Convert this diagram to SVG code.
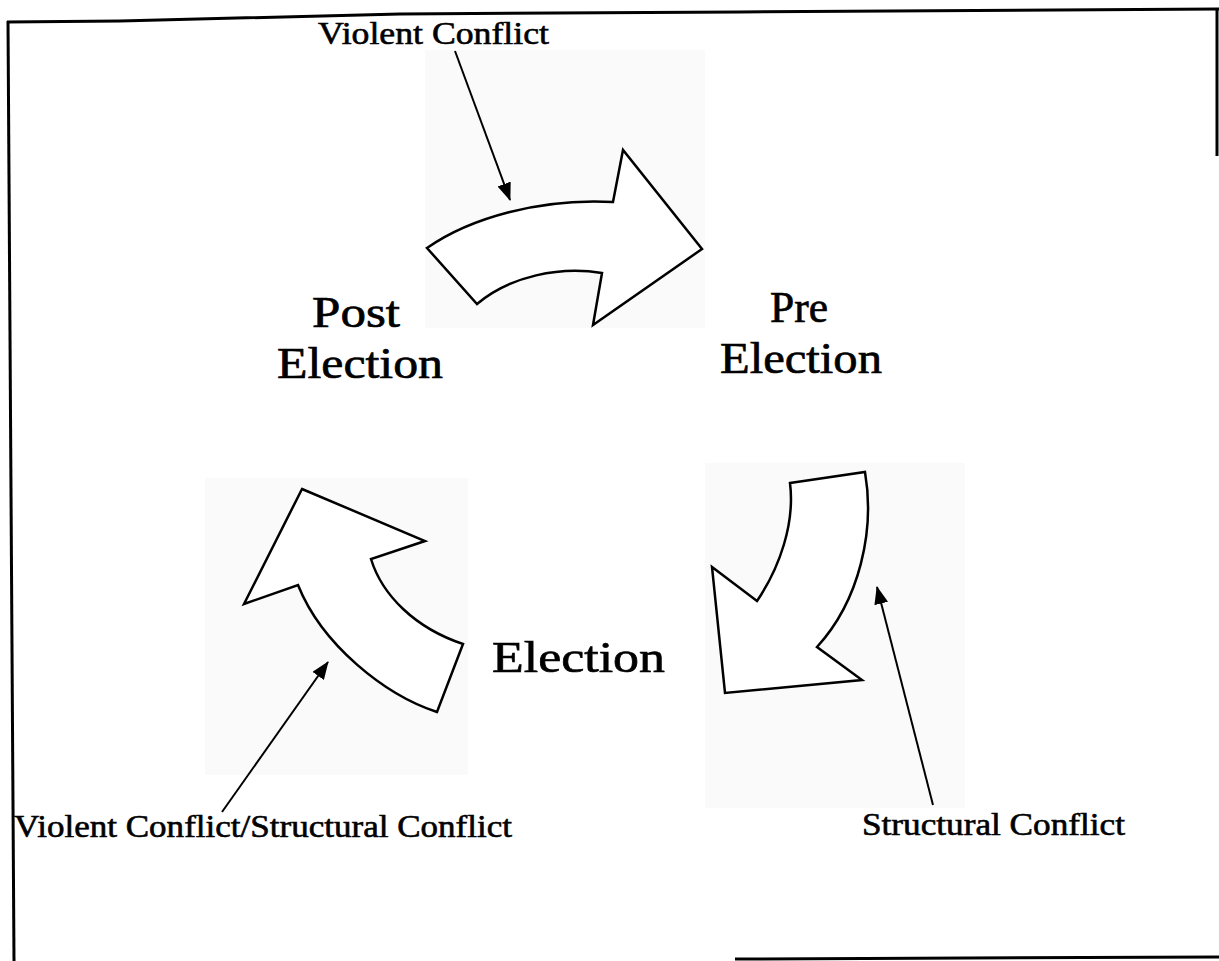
<svg xmlns="http://www.w3.org/2000/svg" width="1219" height="961" viewBox="0 0 1219 961">
<style>
.bg{fill:#fafafa;stroke:none}
.shape{fill:#ffffff;stroke:#000;stroke-width:2.5;stroke-linejoin:miter}
.conn{stroke:#000;stroke-width:2;fill:none}
.border{stroke:#000;stroke-width:3;fill:none}
.lbl{font-family:"Liberation Serif","Times New Roman",serif;fill:#000;stroke:#000}
.big{font-size:45px;stroke-width:0.7}
.small{font-size:31px;stroke-width:0.6}
</style>
<defs>
<marker id="ah" viewBox="0 0 18 14" refX="17" refY="7" markerWidth="18" markerHeight="14" markerUnits="userSpaceOnUse" orient="auto">
<path d="M0,0 L18,7 L0,14 Z" fill="#000"/>
</marker>
</defs>
<rect width="1219" height="961" fill="#fff"/>
<g id="frame">
<polyline class="border" points="7,22 120,21 400,14 740,12 1219,9"/>
<line class="border" x1="1217" y1="9" x2="1217" y2="156"/>
<line class="border" x1="8" y1="21" x2="14" y2="961"/>
<line class="border" x1="735" y1="959" x2="1219" y2="957"/>
</g>
<g id="backgrounds">
<rect class="bg" x="425" y="50" width="280" height="278"/>
<rect class="bg" x="205" y="478" width="263" height="297"/>
<rect class="bg" x="705" y="463" width="260" height="345"/>
</g>
<g id="arrow-top">
<path class="shape" d="M427,248 C470,218 540,198 613,202 L623,150 L702,249 L593,325 L602,273 C560,266 510,276 477,304 Z"/>
</g>
<g id="arrow-right">
<path class="shape" d="M790,483 L865,472 C875,530 860,600 817,647 L862,680 L725,693 L712,567 L757,601 C780,567 795,523 790,483 Z"/>
</g>
<g id="arrow-left">
<path class="shape" d="M302,489 L425,541 L371,559 C382,595 415,628 463,644 L437,712 C385,695 322,645 298,585 L244,604 Z"/>
</g>
<g id="connectors">
<line class="conn" x1="455" y1="51" x2="510" y2="200" marker-end="url(#ah)"/>
<line class="conn" x1="222" y1="812" x2="328" y2="662" marker-end="url(#ah)"/>
<line class="conn" x1="933" y1="805" x2="877" y2="587" marker-end="url(#ah)"/>
</g>
<g id="node-post">
<text class="lbl big" x="312" y="327" textLength="88" lengthAdjust="spacingAndGlyphs">Post</text>
<text class="lbl big" x="277" y="378" textLength="166" lengthAdjust="spacingAndGlyphs">Election</text>
</g>
<g id="node-pre">
<text class="lbl big" x="770" y="322" textLength="58" lengthAdjust="spacingAndGlyphs">Pre</text>
<text class="lbl big" x="720" y="373" textLength="162" lengthAdjust="spacingAndGlyphs">Election</text>
</g>
<g id="node-election">
<text class="lbl big" x="492" y="672" textLength="173" lengthAdjust="spacingAndGlyphs">Election</text>
</g>
<g id="labels">
<text class="lbl small" x="318" y="44" textLength="231" lengthAdjust="spacingAndGlyphs">Violent Conflict</text>
<text class="lbl small" x="14" y="837" textLength="498" lengthAdjust="spacingAndGlyphs">Violent Conflict/Structural Conflict</text>
<text class="lbl small" x="862" y="835" textLength="263" lengthAdjust="spacingAndGlyphs">Structural Conflict</text>
</g>
</svg>
